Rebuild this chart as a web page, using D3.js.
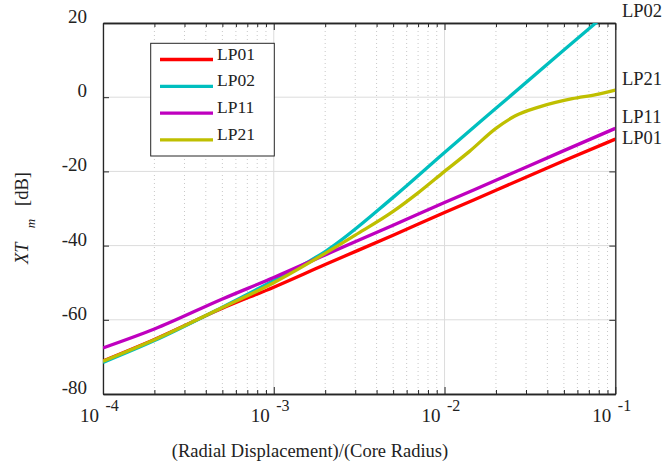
<!DOCTYPE html>
<html><head><meta charset="utf-8">
<script src="https://cdn.jsdelivr.net/npm/d3@7/dist/d3.min.js"></script>
<style>
html,body{margin:0;padding:0;background:#fff;}
svg text{font-family:"Liberation Serif","Times New Roman",serif;fill:#222;}
</style></head>
<body><svg id="c" width="665" height="468"></svg>
<script>
const seriesNames = ["LP01","LP02","LP11","LP21"];
const seriesColors = ["#ff0000","#00bfbf","#bf00bf","#bfbf00"];
const xLP01 = [1e-4,2e-4,5e-4,1e-3,2e-3,5e-3,1e-2,2e-2,5e-2,1e-1];
const yLP01 = [-71.1,-65.3,-56.9,-51.2,-45.1,-37.2,-31.1,-25.1,-17.1,-11.3];
const xLP02 = [1e-4,2e-4,5e-4,1e-3,1.6e-3,2e-3,5e-3,1e-2,2e-2,5e-2,1e-1];
const yLP02 = [-71.5,-65.6,-56.6,-49.4,-44.3,-41.6,-27.0,-14.9,-3.0,12.7,24.5];
const xLP11 = [1e-4,2e-4,5e-4,1e-3,2e-3,5e-3,1e-2,2e-2,5e-2,1e-1];
const yLP11 = [-67.6,-62.5,-54.4,-48.6,-42.5,-34.5,-28.4,-22.4,-14.4,-8.4];
const xLP21 = [1e-4,2e-4,5e-4,1e-3,2e-3,3e-3,5e-3,7e-3,1e-2,1.4e-2,2e-2,2.6e-2,3.6e-2,5.6e-2,7.7e-2,1e-1];
const yLP21 = [-71.2,-65.4,-56.7,-50.0,-42.1,-37.2,-30.8,-25.8,-20.0,-14.6,-8.4,-5.0,-2.6,-0.4,0.7,1.9];
const labelValues = [-12.7,21.6,-6.9,3.2];   // right-hand label anchors (dB)
const yTicks = [-80,-60,-40,-20,0,20];
const xDecades = [1e-4,1e-3,1e-2,1e-1];
const xDecadeExp = ["-4","-3","-2","-1"];
const xTitle = "(Radial Displacement)/(Core Radius)";

const xs = [xLP01,xLP02,xLP11,xLP21], ys=[yLP01,yLP02,yLP11,yLP21];
const L=103, R=615.3, T=23, B=394;
const svg = d3.select("#c");
const x = d3.scaleLog().domain([1e-4,1e-1]).range([L,R]);
const y = d3.scaleLinear().domain([-80,20]).range([B,T]);

const minors=[];
for(let e=-4;e<-1;e++){for(let k=2;k<=9;k++) minors.push(k*Math.pow(10,e));}

const g = svg.append("g");
g.selectAll(".mg").data(minors).join("line")
 .attr("x1",d=>x(d)).attr("x2",d=>x(d)).attr("y1",T).attr("y2",B)
 .attr("stroke","#c8c8c8").attr("stroke-width",1).attr("stroke-dasharray","1,3");
g.selectAll(".Mg").data(xDecades).join("line")
 .attr("x1",d=>x(d)).attr("x2",d=>x(d)).attr("y1",T).attr("y2",B)
 .attr("stroke","#dcdcdc").attr("stroke-width",1);
g.selectAll(".yg").data(yTicks).join("line")
 .attr("x1",L).attr("x2",R).attr("y1",d=>y(d)).attr("y2",d=>y(d))
 .attr("stroke","#dcdcdc").attr("stroke-width",1);

const axB = d3.axisBottom(x).tickValues(xDecades).tickSizeInner(-7).tickSizeOuter(0).tickFormat("");
const axT = d3.axisTop(x).tickValues(xDecades).tickSizeInner(-7).tickSizeOuter(0).tickFormat("");
const axBm = d3.axisBottom(x).tickValues(minors).tickSizeInner(-4).tickSizeOuter(0).tickFormat("");
const axTm = d3.axisTop(x).tickValues(minors).tickSizeInner(-4).tickSizeOuter(0).tickFormat("");
const axL = d3.axisLeft(y).tickValues(yTicks).tickSizeInner(-6).tickSizeOuter(0).tickFormat("");
const axR = d3.axisRight(y).tickValues(yTicks).tickSizeInner(-6).tickSizeOuter(0).tickFormat("");
[[axB,`translate(0,${B})`],[axT,`translate(0,${T})`],[axBm,`translate(0,${B})`],[axTm,`translate(0,${T})`],[axL,`translate(${L},0)`],[axR,`translate(${R},0)`]]
.forEach(([a,t])=>{const gg=svg.append("g").attr("transform",t).call(a);
  gg.selectAll("line").attr("stroke","#262626"); gg.select(".domain").attr("stroke","#262626").attr("stroke-width",1.3);});

svg.selectAll(".yl").data(yTicks).join("text")
 .attr("x",87).attr("y",d=>y(d)).attr("text-anchor","end").attr("font-size",19).text(d=>d);
xDecades.forEach((d,i)=>{
  svg.append("text").attr("x",x(d)-4).attr("y",421.5).attr("text-anchor","end").attr("font-size",19).text("10");
  svg.append("text").attr("x",x(d)+2.5).attr("y",410.5).attr("text-anchor","start").attr("font-size",16).text(xDecadeExp[i]);
});
svg.append("text").attr("x",310).attr("y",457).attr("text-anchor","middle").attr("font-size",18.5).text(xTitle);
const yt = svg.append("text").attr("transform","translate(28,218) rotate(-90)").attr("text-anchor","middle").attr("font-size",18.5);
yt.append("tspan").attr("font-style","italic").text("XT");
yt.append("tspan").attr("font-style","italic").attr("font-size",13).attr("dx",14).attr("dy",7).text("m");
yt.append("tspan").attr("dx",13).attr("dy",-7).text("[dB]");

svg.append("clipPath").attr("id","cp").append("rect").attr("x",L).attr("y",T).attr("width",R-L).attr("height",B-T);
const line = d3.line().curve(d3.curveMonotoneX);
seriesNames.forEach((n,i)=>{
  const pts = xs[i].map((v,j)=>[x(v),y(ys[i][j])]);
  svg.append("path").attr("d",line(pts)).attr("fill","none").attr("stroke",seriesColors[i])
   .attr("stroke-width",3.3).attr("clip-path","url(#cp)");
  svg.append("text").attr("x",622).attr("y",y(labelValues[i])).attr("font-size",18.5).text(n);
});

const lg = svg.append("g");
lg.append("rect").attr("x",150.7).attr("y",43.3).attr("width",123.6).attr("height",112.7)
  .attr("fill","#fff").attr("stroke","#262626").attr("stroke-width",1);
seriesNames.forEach((n,i)=>{
  const yy = 59.5+i*26.8;
  lg.append("line").attr("x1",160).attr("x2",213).attr("y1",yy).attr("y2",yy).attr("stroke",seriesColors[i]).attr("stroke-width",3.3);
  lg.append("text").attr("x",217).attr("y",yy).attr("font-size",17.5).text(n);
});
</script></body></html>
